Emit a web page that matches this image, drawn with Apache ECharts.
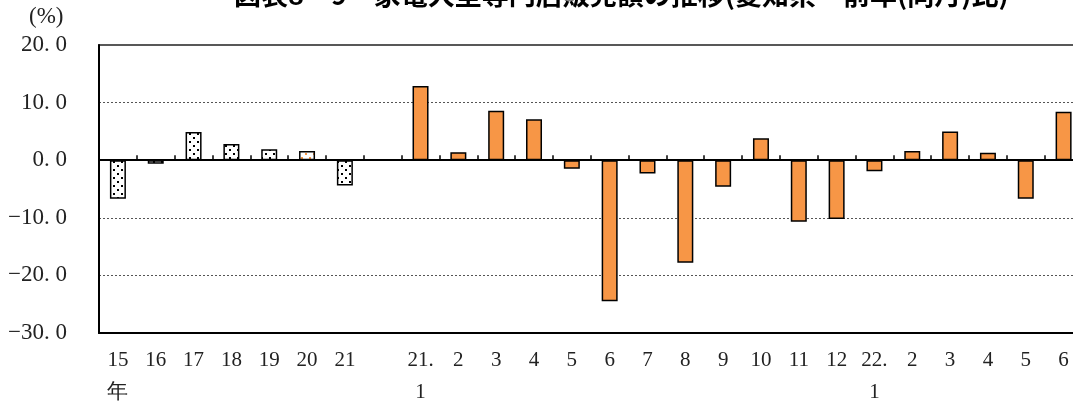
<!DOCTYPE html>
<html>
<head>
<meta charset="utf-8">
<script src="https://cdn.jsdelivr.net/npm/echarts@6/dist/echarts.min.js"></script>
<style>
  html, body { margin: 0; padding: 0; background: #fff; }
  #chart { width: 1073px; height: 406px; }
</style>
</head>
<body>
<div id="chart"></div>
<script>
// 年次(15〜21年)と月次(21年1月〜22年6月)の前年(同月)比, %
const categories = ['15\n年', '16', '17', '18', '19', '20', '21', '',
  '21.\n1', '2', '3', '4', '5', '6', '7', '8', '9', '10', '11', '12',
  '22.\n1', '2', '3', '4', '5', '6'];
const annualValues = [-6.7, -0.6, 4.9, 2.8, 1.9, 1.6, -4.4];
const monthlyValues = [12.9, 1.4, 8.6, 7.1, -1.5, -24.5, -2.3, -17.8, -4.6, 3.8,
  -10.7, -10.2, -1.9, 1.6, 5.0, 1.3, -6.7, 8.4];
const yTicks = [-30, -20, -10, 0, 10, 20];

const ORANGE = '#F79646';
const SERIF = '"Liberation Serif", "DejaVu Serif", serif';

// dotted fill for the annual bars
function dotPattern(dotColor) {
  const c = document.createElement('canvas');
  c.width = 8; c.height = 8;
  const g = c.getContext('2d');
  g.fillStyle = '#fff';
  g.fillRect(0, 0, 8, 8);
  g.fillStyle = dotColor;
  g.fillRect(1, 1, 2, 2);
  g.fillRect(5, 5, 2, 2);
  return { image: c, repeat: 'repeat' };
}

const barData = [];
annualValues.forEach((v, i) => {
  barData.push({
    value: v,
    itemStyle: { color: dotPattern(i === 5 ? ORANGE : '#000') }
  });
});
barData.push({ value: null });
monthlyValues.forEach(v => {
  barData.push({ value: v, itemStyle: { color: ORANGE } });
});

const chart = echarts.init(document.getElementById('chart'), null, { renderer: 'canvas' });
chart.setOption({
  animation: false,
  backgroundColor: '#fff',
  grid: {
    left: 99, top: 45, right: -9.5, bottom: 73,
    show: true, borderColor: '#222', borderWidth: 1.5,
    outerBoundsMode: 'none', containLabel: false
  },
  graphic: [
    {
      type: 'text', left: 234, top: -19,
      style: {
        text: '図表8－9　家電大型専門店販売額の推移(愛知県　前年(同月)比)',
        font: 'bold 27px "Noto Sans CJK JP"', fill: '#000'
      }
    },
    {
      type: 'text', left: 29, top: 5,
      style: { text: '(%)', font: '23px ' + SERIF, fill: '#222' }
    }
  ],
  xAxis: [
    {
      type: 'category', data: categories, position: 'bottom',
      axisLine: { onZero: false, lineStyle: { color: '#000', width: 2 } },
      axisTick: { show: false },
      axisLabel: {
        interval: 0, margin: 11, fontSize: 21, lineHeight: 32,
        fontFamily: SERIF, color: '#222', align: 'center'
      },
      splitLine: { show: false }
    },
    {
      type: 'category', data: categories, position: 'bottom',
      axisLine: { onZero: true, lineStyle: { color: '#000', width: 2 } },
      axisTick: { show: true, inside: true, length: 5, interval: 0,
        lineStyle: { color: '#000', width: 1.5 } },
      axisLabel: { show: false },
      splitLine: { show: false }
    }
  ],
  yAxis: {
    type: 'value', min: yTicks[0], max: yTicks[yTicks.length - 1], interval: 10,
    axisLine: { show: true, lineStyle: { color: '#000', width: 2 } },
    axisTick: { show: false },
    axisLabel: {
      margin: 32, fontSize: 23, fontFamily: SERIF, color: '#222',
      formatter: v => v.toFixed(1).replace('.', '. ').replace('-', '−')
    },
    splitLine: {
      show: true, showMinLine: false, showMaxLine: false,
      lineStyle: { color: '#555', type: [2, 2], width: 1 }
    }
  },
  series: [{
    type: 'bar', xAxisIndex: 0, data: barData, barWidth: 16,
    itemStyle: { borderColor: '#000', borderWidth: 1.5 }
  }]
});
</script>
</body>
</html>
